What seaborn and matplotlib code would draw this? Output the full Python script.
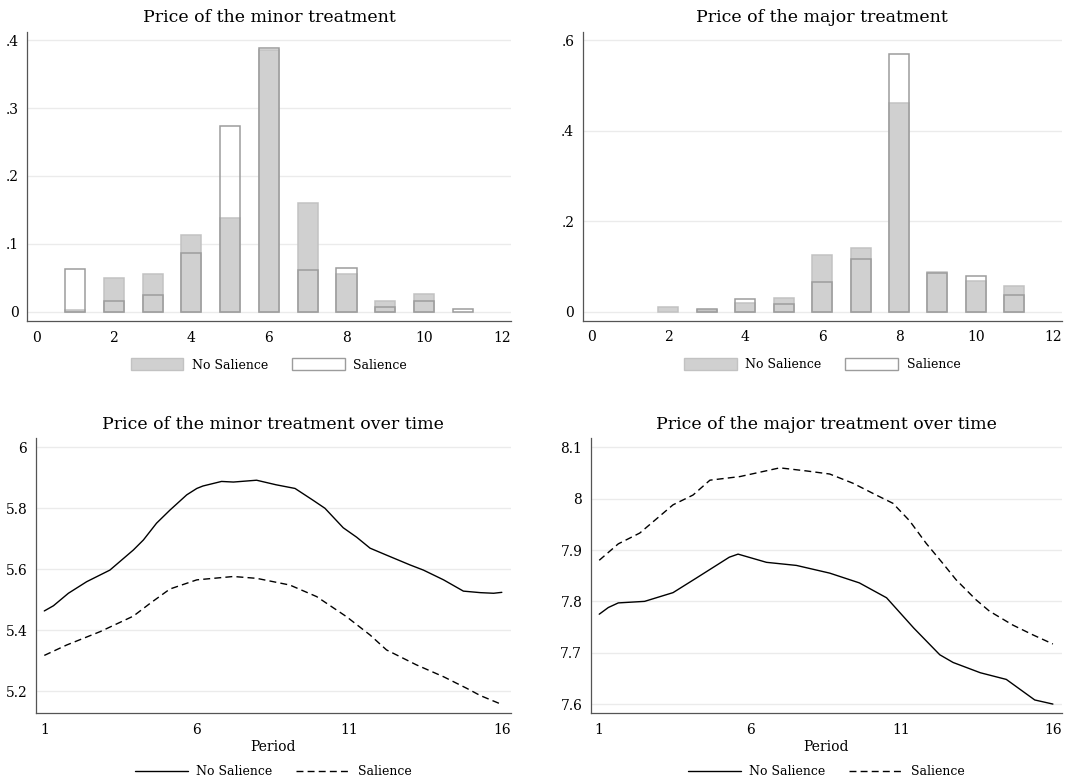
import numpy as np
import pandas as pd
import matplotlib
matplotlib.use("Agg")
import matplotlib.pyplot as plt
from matplotlib.patches import Patch
from matplotlib.lines import Line2D
import seaborn as sns

# ---- histogram data: share of subjects choosing each price ----
prices = [1, 2, 3, 4, 5, 6, 7, 8, 9, 10, 11]
minor_no_salience = [0.003, 0.050, 0.055, 0.1125, 0.138, 0.386, 0.160, 0.055, 0.016, 0.0265, 0.0]
minor_salience = [0.063, 0.0157, 0.0246, 0.087, 0.274, 0.388, 0.061, 0.065, 0.0074, 0.0157, 0.0034]
major_no_salience = [0.0, 0.011, 0.004, 0.020, 0.0295, 0.125, 0.1415, 0.461, 0.0885, 0.068, 0.0575]
major_salience = [0.0, 0.0, 0.005, 0.0287, 0.017, 0.065, 0.1165, 0.570, 0.0855, 0.078, 0.038]

# ---- smoothed average price over periods ----
minor_ns_period = [1, 1.3, 1.79, 2.39, 3.15, 3.92, 4.25, 4.68, 5.12, 5.67, 6.0, 6.2, 6.81, 7.2,
                   7.96, 8.6, 9.22, 9.8, 10.2, 10.8, 11.24, 11.68, 12.2, 12.99, 13.43, 14.09,
                   14.74, 15.3, 15.73, 16]
minor_ns_price = [5.463, 5.480, 5.521, 5.559, 5.597, 5.663, 5.696, 5.751, 5.794, 5.844, 5.865,
                  5.873, 5.888, 5.886, 5.892, 5.877, 5.865, 5.827, 5.800, 5.736, 5.705, 5.669,
                  5.647, 5.614, 5.597, 5.565, 5.528, 5.523, 5.521, 5.524]
minor_s_period = [1, 1.73, 2.83, 3.92, 4.47, 5.12, 6.0, 7.2, 7.96, 9.05, 9.93, 10.91, 11.68,
                  12.22, 13.2, 14.09, 14.85, 15.3, 16]
minor_s_price = [5.317, 5.351, 5.395, 5.446, 5.488, 5.535, 5.565, 5.576, 5.570, 5.548, 5.510,
                 5.444, 5.384, 5.335, 5.286, 5.247, 5.209, 5.185, 5.156]

major_ns_period = [1, 1.3, 1.63, 2.5, 3.44, 4.2, 5.3, 5.59, 6.53, 7.52, 8.62, 9.6, 10.5, 11.4,
                   12.26, 12.7, 13.6, 14.46, 15.0, 15.4, 16]
major_ns_price = [7.775, 7.788, 7.797, 7.800, 7.817, 7.845, 7.886, 7.892, 7.876, 7.870, 7.855,
                  7.836, 7.807, 7.748, 7.696, 7.681, 7.661, 7.648, 7.625, 7.608, 7.600]
major_s_period = [1, 1.63, 2.34, 3.44, 4.1, 4.66, 5.65, 6.97, 7.85, 8.62, 9.39, 10.16, 10.71,
                  11.26, 11.81, 12.36, 12.8, 13.46, 13.9, 14.67, 15.33, 16]
major_s_price = [7.880, 7.912, 7.933, 7.988, 8.007, 8.036, 8.043, 8.060, 8.054, 8.048, 8.030,
                 8.007, 7.991, 7.957, 7.913, 7.874, 7.842, 7.803, 7.781, 7.754, 7.735, 7.717]

minor_yticks = [0, 0.1, 0.2, 0.3, 0.4]
minor_ylabels = ["0", ".1", ".2", ".3", ".4"]
major_yticks = [0, 0.2, 0.4, 0.6]
major_ylabels = ["0", ".2", ".4", ".6"]
minor_time_yticks = [5.2, 5.4, 5.6, 5.8, 6.0]
minor_time_ylabels = ["5.2", "5.4", "5.6", "5.8", "6"]
major_time_yticks = [7.6, 7.7, 7.8, 7.9, 8.0, 8.1]
major_time_ylabels = ["7.6", "7.7", "7.8", "7.9", "8", "8.1"]
period_ticks = [1, 6, 11, 16]

sns.set_style("white")
plt.rcParams["font.family"] = ["DejaVu Serif"]
plt.rcParams["axes.linewidth"] = 0.9
plt.rcParams["text.color"] = "black"
plt.rcParams["axes.labelcolor"] = "black"

FILL = "#d0d0d0"
FILL_EDGE = "#c2c2c2"
OUTLINE = "#9c9c9c"
GRID = "#ebebeb"
AXIS = "#555555"

fig = plt.figure(figsize=(10.84, 7.83), dpi=100)
ax_tl = fig.add_axes([0.0252, 0.5900, 0.4459, 0.3691])
ax_tr = fig.add_axes([0.5375, 0.5904, 0.4419, 0.3691])
ax_bl = fig.add_axes([0.0329, 0.0890, 0.4382, 0.3512])
ax_br = fig.add_axes([0.5449, 0.0890, 0.4345, 0.3512])


def style_axes(ax, yticks, ylabels):
    for side in ["top", "right"]:
        ax.spines[side].set_visible(False)
    for side in ["left", "bottom"]:
        ax.spines[side].set_color(AXIS)
    ax.set_yticks(yticks)
    ax.set_yticklabels(ylabels)
    ax.tick_params(axis="both", direction="out", length=4, width=0.9, color=AXIS,
                   labelsize=10, labelcolor="black", pad=3)
    ax.tick_params(axis="y", pad=2)
    ax.yaxis.grid(True, color=GRID, linewidth=1.0)
    ax.xaxis.grid(False)
    ax.set_axisbelow(True)
    ax.set_xlabel("")
    ax.set_ylabel("")


def nonzero(xs, ys):
    pairs = [(x, y) for x, y in zip(xs, ys) if y > 0]
    return [p[0] for p in pairs], [p[1] for p in pairs]


def histogram_panel(ax, ns, s, title, yticks, ylabels, ylim):
    ns_x, ns_y = nonzero(prices, ns)
    s_x, s_y = nonzero(prices, s)
    sns.barplot(x=ns_x, y=ns_y, native_scale=True, width=0.52, color=FILL,
                edgecolor=FILL_EDGE, linewidth=1.1, errorbar=None, saturation=1, ax=ax)
    sns.barplot(x=s_x, y=s_y, native_scale=True, width=0.52, fill=False,
                edgecolor=OUTLINE, linewidth=1.1, errorbar=None, saturation=1, ax=ax)
    style_axes(ax, yticks, ylabels)
    ax.set_xticks([0, 2, 4, 6, 8, 10, 12])
    ax.set_xticklabels(["0", "2", "4", "6", "8", "10", "12"])
    ax.set_xlim(-0.23, 12.23)
    ax.set_ylim(*ylim)
    ax.set_title(title, fontsize=12.5, pad=7, color="black")
    handles = [Patch(facecolor=FILL, edgecolor=FILL_EDGE, linewidth=1.0),
               Patch(facecolor="white", edgecolor=OUTLINE, linewidth=1.0)]
    ax.legend(handles, ["No Salience", "Salience"], loc="center",
              bbox_to_anchor=(0.5, -0.152), ncol=2, frameon=False, fontsize=9,
              handlelength=4.2, handleheight=1.1, handletextpad=0.7, columnspacing=1.9)


def time_panel(ax, ns_x, ns_y, s_x, s_y, title, yticks, ylabels, ylim):
    sns.lineplot(x=ns_x, y=ns_y, color="black", linewidth=1.0, ax=ax)
    sns.lineplot(x=s_x, y=s_y, color="black", linewidth=1.0, linestyle=(0, (5, 3)), ax=ax)
    style_axes(ax, yticks, ylabels)
    ax.set_xticks(period_ticks)
    ax.set_xticklabels([str(t) for t in period_ticks])
    ax.set_xlim(0.717, 16.29)
    ax.set_ylim(*ylim)
    ax.set_xlabel("Period", fontsize=10, labelpad=2, color="black")
    ax.set_title(title, fontsize=12.5, pad=7, color="black")
    handles = [Line2D([], [], color="black", linewidth=1.0),
               Line2D([], [], color="black", linewidth=1.0, linestyle=(0, (5, 3)))]
    ax.legend(handles, ["No Salience", "Salience"], loc="center",
              bbox_to_anchor=(0.5, -0.213), ncol=2, frameon=False, fontsize=9,
              handlelength=4.2, handletextpad=0.7, columnspacing=1.9)


histogram_panel(ax_tl, minor_no_salience, minor_salience, "Price of the minor treatment",
                minor_yticks, minor_ylabels, (-0.0137, 0.412))
histogram_panel(ax_tr, major_no_salience, major_salience, "Price of the major treatment",
                major_yticks, major_ylabels, (-0.0199, 0.619))
time_panel(ax_bl, minor_ns_period, minor_ns_price, minor_s_period, minor_s_price,
           "Price of the minor treatment over time", minor_time_yticks, minor_time_ylabels,
           (5.127, 6.0295))
time_panel(ax_br, major_ns_period, major_ns_price, major_s_period, major_s_price,
           "Price of the major treatment over time", major_time_yticks, major_time_ylabels,
           (7.582, 8.1175))

fig.savefig("out.png", dpi=100, facecolor="white")
